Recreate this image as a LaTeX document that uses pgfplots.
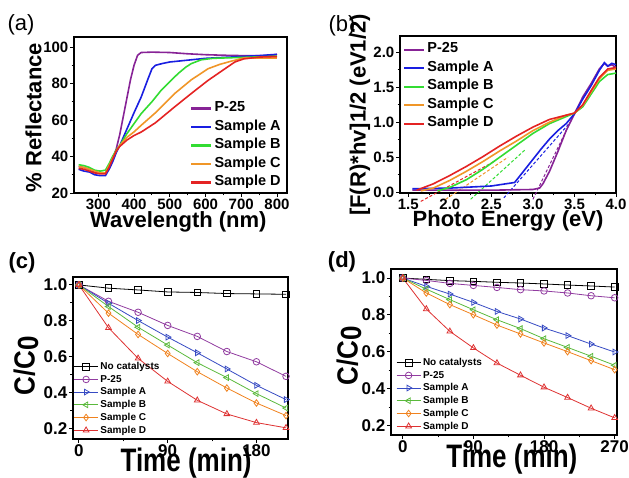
\documentclass[border=0pt]{standalone}
\usepackage{fontspec}
\setmainfont{Liberation Sans}
\usepackage{pgfplots}
\pgfplotsset{compat=1.18}

\definecolor{cP}{RGB}{135,35,150}
\definecolor{cA}{RGB}{25,30,225}
\definecolor{cB}{RGB}{50,220,50}
\definecolor{cC}{RGB}{240,150,40}
\definecolor{cD}{RGB}{228,35,35}
\definecolor{kP}{RGB}{145,60,160}
\definecolor{kA}{RGB}{55,75,195}
\definecolor{kB}{RGB}{90,185,60}
\definecolor{kC}{RGB}{240,130,30}
\definecolor{kD}{RGB}{222,50,50}

\pgfplotsset{
  panel/.style={
    scale only axis, anchor=south west,
    axis line style={line width=1.1pt},
    every tick/.style={black,line width=0.9pt},
    major tick length=4pt, minor tick length=2.5pt,
    minor tick num=1, tick align=outside,
    xtick pos=bottom, ytick pos=left,
    /pgf/number format/assume math mode=true,
    every tick label/.append style={inner sep=1.5pt},
    legend cell align=left,
  },
  top/.style={
    panel,
    tick label style={font=\bfseries\fontsize{15}{15}\selectfont},
    label style={font=\bfseries\fontsize{22}{22}\selectfont},
    legend style={draw=none,fill=none,font=\bfseries\fontsize{14.5}{17}\selectfont,inner sep=1pt,
      nodes={text height=10.5pt,text depth=4pt}},
  },
  bot/.style={
    panel,
    tick label style={font=\bfseries\fontsize{17}{17}\selectfont},
    label style={font=\bfseries\fontsize{26}{26}\selectfont},
    legend style={draw=none,fill=none,font=\bfseries\fontsize{10}{12.4}\selectfont,inner sep=0.5pt},
    legend image code/.code={\draw[mark repeat=2,mark phase=2,##1] plot coordinates {(0pt,0pt)(12pt,0pt)(24pt,0pt)};},
    yticklabel style={/pgf/number format/.cd,fixed,fixed zerofill,precision=1},
    clip=false,
  },
  cv/.style={line width=1.6pt, color=#1,
    legend image code/.code={\draw[color=#1,line width=2.1pt](0pt,0pt)--(20pt,0pt);}},
  tg/.style={line width=1pt,densely dashed,forget plot},
  mk/.style={line width=0.8pt, mark size=3.3pt, mark options={solid,fill=white,line width=0.8pt}},
}

\begin{document}
\begin{tikzpicture}
\path[use as bounding box] (0,0) rectangle (629pt,478pt);

% (a) reflectance
\begin{axis}[top, at={(74pt,285pt)}, width=213pt, height=156pt,
  xmin=232, xmax=828, ymin=20, ymax=105.5,
  xtick={300,400,...,800}, ytick={20,40,...,100},
  xlabel={Wavelength (nm)}, ylabel={\% Reflectance},
  xlabel style={at={(axis description cs:0.49,-0.185)},anchor=center},
  ylabel style={at={(axis description cs:-0.19,0.484)},anchor=center},
  legend style={at={(0.985,0.0)},anchor=south east},
]
\addplot[cv=cP] coordinates {(245,34.5)(260,34)(275,33)(290,31.5)(305,31)(320,31)(330,33)(340,38)(350,44)(360,52)(370,62)(380,72)(390,82)(400,90)(410,95.5)(420,97)(450,97.2)(500,97)(550,96.3)(600,95.8)(650,95.5)(700,95.3)(750,95.2)(790,95.5)(800,96)};
\addlegendentry{P-25}
\addplot[cv=cA] coordinates {(245,33)(260,32)(275,31.5)(290,30)(305,29.5)(320,29.5)(330,33)(340,37)(350,42)(360,46)(380,55)(400,64)(420,72.6)(440,83)(450,88)(460,90)(480,91)(500,91.8)(550,92.8)(600,93.8)(650,94.3)(700,94.8)(750,95.3)(800,96)};
\addlegendentry{Sample A}
\addplot[cv=cB] coordinates {(245,35.5)(260,35)(275,34)(290,32.5)(305,32)(320,32.5)(330,36)(340,40)(350,43.5)(360,46)(380,52.5)(400,58)(420,63.5)(450,70)(476,76.3)(500,81)(523,85.4)(545,89)(560,90.9)(588,93)(620,93.8)(650,94)(700,94.3)(750,94.6)(800,95)};
\addlegendentry{Sample B}
\addplot[cv=cC] coordinates {(245,34.5)(260,34)(275,33)(290,32)(305,31)(320,31)(330,35)(340,39)(350,43)(360,46)(380,50.5)(400,53.5)(420,57.1)(460,64)(513,74.4)(560,82)(607,88.1)(640,90.5)(673,92.3)(707,94)(750,94)(800,94)};
\addlegendentry{Sample C}
\addplot[cv=cD] coordinates {(245,33.5)(260,33)(275,32)(290,31)(305,30.5)(320,30.5)(330,34)(340,38.5)(350,43)(360,45.5)(380,49)(400,51.5)(420,53.4)(460,58.5)(513,67.1)(560,74.5)(607,81.7)(650,87.5)(682,91.8)(707,93.5)(750,94.5)(800,94.8)};
\addlegendentry{Sample D}
\end{axis}

% (b) Tauc plot, tangent lines first
\begin{axis}[top, at={(400pt,285pt)}, width=216pt, height=157pt,
  xmin=1.4, xmax=4.0, ymin=-0.01, ymax=2.23, clip=false,
  xtick={1.5,2.0,...,4.0}, ytick={0,0.5,...,2.0},
  xticklabel style={/pgf/number format/.cd,fixed,fixed zerofill,precision=1},
  yticklabel style={/pgf/number format/.cd,fixed,fixed zerofill,precision=1},
  xlabel={Photo Energy (eV)}, ylabel={[F(R)*hv]1/2 (eV1/2)},
  xlabel style={at={(axis description cs:0.5,-0.18)},anchor=center},
  ylabel style={at={(axis description cs:-0.185,0.497)},anchor=center},
  legend style={at={(0.01,0.98)},anchor=north west},
]
\addplot[tg,cD] coordinates {(1.65,-0.13)(2.55,0.45)};
\addplot[tg,cC] coordinates {(1.95,-0.1)(2.7,0.5)};
\addplot[tg,cB] coordinates {(2.25,-0.1)(2.9,0.6)};
\addplot[tg,cA] coordinates {(2.65,-0.08)(3.45,1.0)};
\addplot[tg,cP] coordinates {(3.0,-0.1)(3.47,1.05)};
\addplot[cv=cP] coordinates {(1.55,0.03)(2.0,0.03)(2.5,0.03)(3.0,0.04)(3.08,0.06)(3.12,0.12)(3.2,0.3)(3.3,0.58)(3.4,0.88)(3.5,1.12)(3.6,1.36)(3.7,1.55)(3.8,1.76)(3.86,1.84)(3.9,1.80)(3.95,1.82)(4.0,1.78)};
\addlegendentry{P-25}
\addplot[cv=cA] coordinates {(1.55,0.05)(2.0,0.06)(2.5,0.09)(2.78,0.14)(2.9,0.32)(3.0,0.47)(3.1,0.62)(3.2,0.76)(3.3,0.88)(3.4,0.98)(3.5,1.12)(3.6,1.33)(3.7,1.52)(3.8,1.74)(3.86,1.85)(3.9,1.80)(3.95,1.84)(4.0,1.82)};
\addlegendentry{Sample A}
\addplot[cv=cB] coordinates {(1.85,0.02)(2.0,0.07)(2.2,0.18)(2.4,0.33)(2.6,0.50)(2.8,0.67)(3.0,0.84)(3.2,0.98)(3.4,1.08)(3.5,1.13)(3.6,1.22)(3.7,1.40)(3.8,1.58)(3.9,1.68)(4.0,1.70)};
\addlegendentry{Sample B}
\addplot[cv=cC] coordinates {(1.65,0.02)(1.8,0.06)(2.0,0.17)(2.2,0.30)(2.4,0.44)(2.6,0.59)(2.8,0.73)(3.0,0.88)(3.2,1.00)(3.4,1.10)(3.5,1.13)(3.6,1.24)(3.7,1.43)(3.8,1.62)(3.9,1.74)(4.0,1.76)};
\addlegendentry{Sample C}
\addplot[cv=cD] coordinates {(1.6,0.03)(1.8,0.12)(2.0,0.24)(2.2,0.37)(2.4,0.51)(2.6,0.66)(2.8,0.80)(3.0,0.93)(3.2,1.04)(3.4,1.10)(3.5,1.13)(3.6,1.25)(3.7,1.45)(3.8,1.64)(3.9,1.76)(4.0,1.78)};
\addlegendentry{Sample D}
\end{axis}

% (c) degradation 210 min
\begin{axis}[bot, at={(73pt,39pt)}, width=215pt, height=162pt,
  xmin=-6, xmax=212, ymin=0.144, ymax=1.044,
  xtick={0,90,180}, ytick={0.2,0.4,...,1.0},
  xlabel={\scalebox{1}[1.25]{Time (min)}}, ylabel={\scalebox{1}[1.12]{C/C\raisebox{-0.12em}{0}}},
  xlabel style={at={(axis description cs:0.526,-0.148)},anchor=center},
  ylabel style={at={(axis description cs:-0.219,0.45)},anchor=center},
  legend style={at={(0.0,0.01)},anchor=south west},
]
\addplot[mk,black,mark=square] coordinates {(0,1.0)(30,0.982)(60,0.972)(90,0.961)(120,0.958)(150,0.952)(180,0.950)(210,0.948)};
\addplot[mk,kP,mark=o] coordinates {(0,1.0)(30,0.909)(60,0.848)(90,0.775)(120,0.714)(150,0.630)(180,0.573)(210,0.492)};
\addplot[mk,kA,mark=triangle,mark options={rotate=-90}] coordinates {(0,1.0)(30,0.898)(60,0.802)(90,0.710)(120,0.623)(150,0.533)(180,0.442)(210,0.363)};
\addplot[mk,kB,mark=triangle,mark options={rotate=90}] coordinates {(0,1.0)(30,0.880)(60,0.765)(90,0.666)(120,0.568)(150,0.485)(180,0.396)(210,0.316)};
\addplot[mk,kC,mark=diamond] coordinates {(0,1.0)(30,0.843)(60,0.725)(90,0.619)(120,0.518)(150,0.427)(180,0.344)(210,0.274)};
\addplot[mk,kD,mark=triangle] coordinates {(0,1.0)(30,0.762)(60,0.592)(90,0.464)(120,0.359)(150,0.283)(180,0.235)(210,0.206)};
\legend{No catalysts,P-25,Sample A,Sample B,Sample C,Sample D}
\end{axis}

% (d) degradation 270 min
\begin{axis}[bot, at={(391pt,43pt)}, width=226pt, height=166pt,
  xmin=-15, xmax=273, ymin=0.149, ymax=1.049,
  xtick={0,90,180,270}, ytick={0.2,0.4,...,1.0},
  xlabel={\scalebox{1}[1.25]{Time (min)}}, ylabel={\scalebox{1}[1.12]{C/C\raisebox{-0.12em}{0}}},
  xlabel style={at={(axis description cs:0.535,-0.145)},anchor=center},
  ylabel style={at={(axis description cs:-0.186,0.476)},anchor=center},
  legend style={at={(0.02,0.01)},anchor=south west},
]
\addplot[mk,black,mark=square] coordinates {(0,1.0)(30,0.993)(60,0.986)(90,0.982)(120,0.977)(150,0.973)(180,0.968)(210,0.962)(240,0.957)(270,0.951)};
\addplot[mk,kP,mark=o] coordinates {(0,1.0)(30,0.987)(60,0.971)(90,0.960)(120,0.949)(150,0.937)(180,0.930)(210,0.919)(240,0.904)(270,0.893)};
\addplot[mk,kA,mark=triangle,mark options={rotate=-90}] coordinates {(0,1.0)(30,0.955)(60,0.913)(90,0.868)(120,0.819)(150,0.778)(180,0.729)(210,0.688)(240,0.642)(270,0.599)};
\addplot[mk,kB,mark=triangle,mark options={rotate=90}] coordinates {(0,1.0)(30,0.940)(60,0.883)(90,0.828)(120,0.774)(150,0.726)(180,0.671)(210,0.624)(240,0.576)(270,0.527)};
\addplot[mk,kC,mark=diamond] coordinates {(0,1.0)(30,0.919)(60,0.856)(90,0.801)(120,0.745)(150,0.697)(180,0.648)(210,0.601)(240,0.552)(270,0.503)};
\addplot[mk,kD,mark=triangle] coordinates {(0,1.0)(30,0.832)(60,0.711)(90,0.621)(120,0.539)(150,0.473)(180,0.408)(210,0.352)(240,0.294)(270,0.242)};
\legend{No catalysts,P-25,Sample A,Sample B,Sample C,Sample D}
\end{axis}

\node[font=\fontsize{22}{22}\selectfont] at (21pt,453pt) {(a)};
\node[font=\fontsize{22}{22}\selectfont] at (342pt,452pt) {(b)};
\node[font=\bfseries\fontsize{22}{22}\selectfont] at (22pt,215pt) {(c)};
\node[font=\bfseries\fontsize{22}{22}\selectfont] at (342pt,216pt) {(d)};
\end{tikzpicture}
\end{document}
